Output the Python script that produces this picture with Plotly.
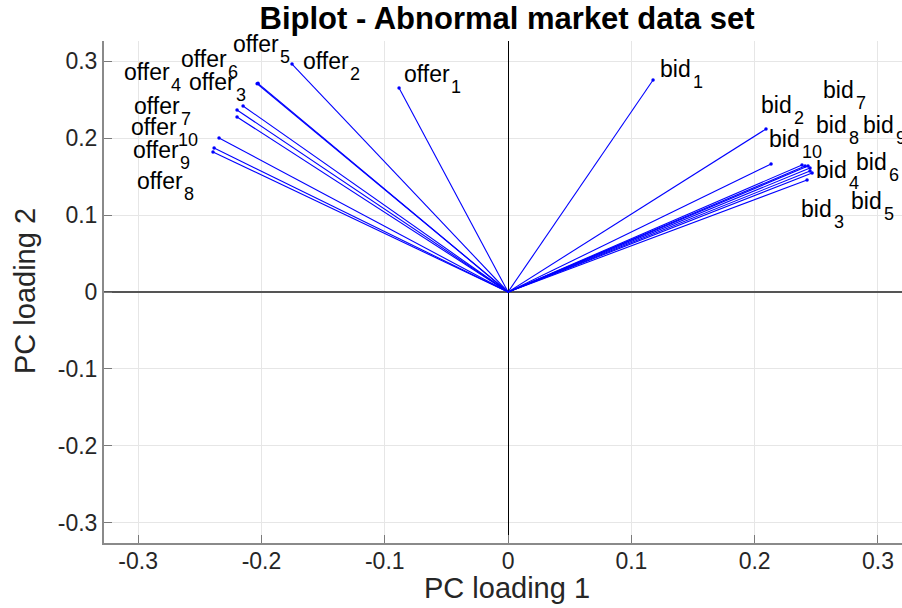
import plotly.graph_objects as go

# ---- data: PC loadings (PC1, PC2) for each variable ----
offer_pc1 = [-0.0884, -0.2028, -0.2149, -0.2198, -0.1752, -0.2035, -0.2198, -0.2393, -0.2384, -0.2344]
offer_pc2 = [0.2650, 0.2710, 0.2416, 0.2273, 0.2960, 0.2705, 0.2364, 0.1818, 0.1870, 0.2000]
bid_pc1 = [0.1176, 0.2092, 0.2425, 0.2449, 0.2466, 0.2449, 0.2433, 0.2409, 0.2384, 0.2133]
bid_pc2 = [0.2753, 0.2117, 0.1455, 0.1571, 0.1545, 0.1610, 0.1636, 0.1636, 0.1650, 0.1662]
var_index = [str(i) for i in range(1, 11)]

tick_vals = [-0.3, -0.2, -0.1, 0, 0.1, 0.2, 0.3]
tick_text = ["-0.3", "-0.2", "-0.1", "0", "0.1", "0.2", "0.3"]

# ---- label placement (data coords of left edge / vertical centre of the label word) ----
offer_lab_x = [-0.0852, -0.1671, -0.2595, -0.3122, -0.2238, -0.2660, -0.3041, -0.3017, -0.3049, -0.3066]
offer_lab_y = [0.2831, 0.2994, 0.2734, 0.2857, 0.3227, 0.3032, 0.2422, 0.1448, 0.1838, 0.2149]
bid_lab_x = [0.1225, 0.2044, 0.2368, 0.2490, 0.2774, 0.2814, 0.2547, 0.2490, 0.2871, 0.2109]
bid_lab_y = [0.2890, 0.2429, 0.1078, 0.1584, 0.1182, 0.1688, 0.2623, 0.2169, 0.2169, 0.1987]

FONT = "Liberation Sans, Arial, Helvetica, sans-serif"
BLUE = "#0000ff"

fig = go.Figure()

# vector lines
lx, ly = [], []
for xs, ys in ((offer_pc1, offer_pc2), (bid_pc1, bid_pc2)):
    for x, y in zip(xs, ys):
        lx += [0, x, None]
        ly += [0, y, None]
fig.add_trace(go.Scatter(x=lx, y=ly, mode="lines",
                         line=dict(color=BLUE, width=1.1),
                         hoverinfo="skip", showlegend=False))
# endpoint dots
fig.add_trace(go.Scatter(x=offer_pc1 + bid_pc1, y=offer_pc2 + bid_pc2, mode="markers",
                         marker=dict(color=BLUE, size=3.5),
                         showlegend=False))

annotations = []
for name, lxs, lys, wshift in (("offer", offer_lab_x, offer_lab_y, 47), ("bid", bid_lab_x, bid_lab_y, 33)):
    for i, (ax_, ay_) in enumerate(zip(lxs, lys)):
        annotations.append(dict(x=ax_, y=ay_, xref="x", yref="y", text=name, showarrow=False,
                                xanchor="left", yanchor="middle", borderpad=0,
                                font=dict(family=FONT, size=23, color="#000000")))
        annotations.append(dict(x=ax_, y=ay_, xref="x", yref="y", text=var_index[i], showarrow=False,
                                xanchor="left", yanchor="middle", borderpad=0,
                                xshift=wshift, yshift=-13,
                                font=dict(family=FONT, size=18, color="#000000")))

# axis titles
annotations.append(dict(text="PC loading 1", x=507 / 902, y=1 - 588 / 608,
                        xref="paper", yref="paper", showarrow=False,
                        xanchor="center", yanchor="middle",
                        font=dict(family=FONT, size=29, color="#262626")))
annotations.append(dict(text="PC loading 2", x=25 / 902, y=1 - 291 / 608,
                        xref="paper", yref="paper", showarrow=False, textangle=-90,
                        xanchor="center", yanchor="middle",
                        font=dict(family=FONT, size=29, color="#262626")))

axis_common = dict(
    tickvals=tick_vals, ticktext=tick_text,
    ticks="inside", ticklen=8, tickwidth=1, tickcolor="#7a7a7a",
    showline=True, linecolor="#8a8a8a", linewidth=2,
    showgrid=True, gridcolor="#e6e6e6", gridwidth=1,
    tickfont=dict(family=FONT, size=23, color="#262626"),
    zeroline=True,
)

fig.update_layout(
    width=902, height=608,
    margin=dict(l=104, r=0, t=41, b=65),
    paper_bgcolor="white", plot_bgcolor="white",
    title=dict(text="<b>Biplot - Abnormal market data set</b>",
               x=507 / 902, xref="container", xanchor="center",
               y=1 - 18 / 608, yref="container", yanchor="middle",
               font=dict(family=FONT, size=31, color="#000000")),
    xaxis=dict(range=[-0.3277, 0.3195],
               zerolinecolor="#000000", zerolinewidth=1,
               ticklabelstandoff=-4,
               **axis_common),
    yaxis=dict(range=[-0.326, 0.326],
               zerolinecolor="#555555", zerolinewidth=2,
               **axis_common),
    annotations=annotations,
)

# convert paper-coord axis-title positions into container space
for a in fig.layout.annotations:
    if a.xref == "paper" and a.text.startswith("PC"):
        px_x = a.x * 902
        px_y = (1 - a.y) * 608
        a.x = (px_x - 104) / (902 - 104)
        a.y = (543 - px_y) / (543 - 41)

fig.write_html("out.html")
